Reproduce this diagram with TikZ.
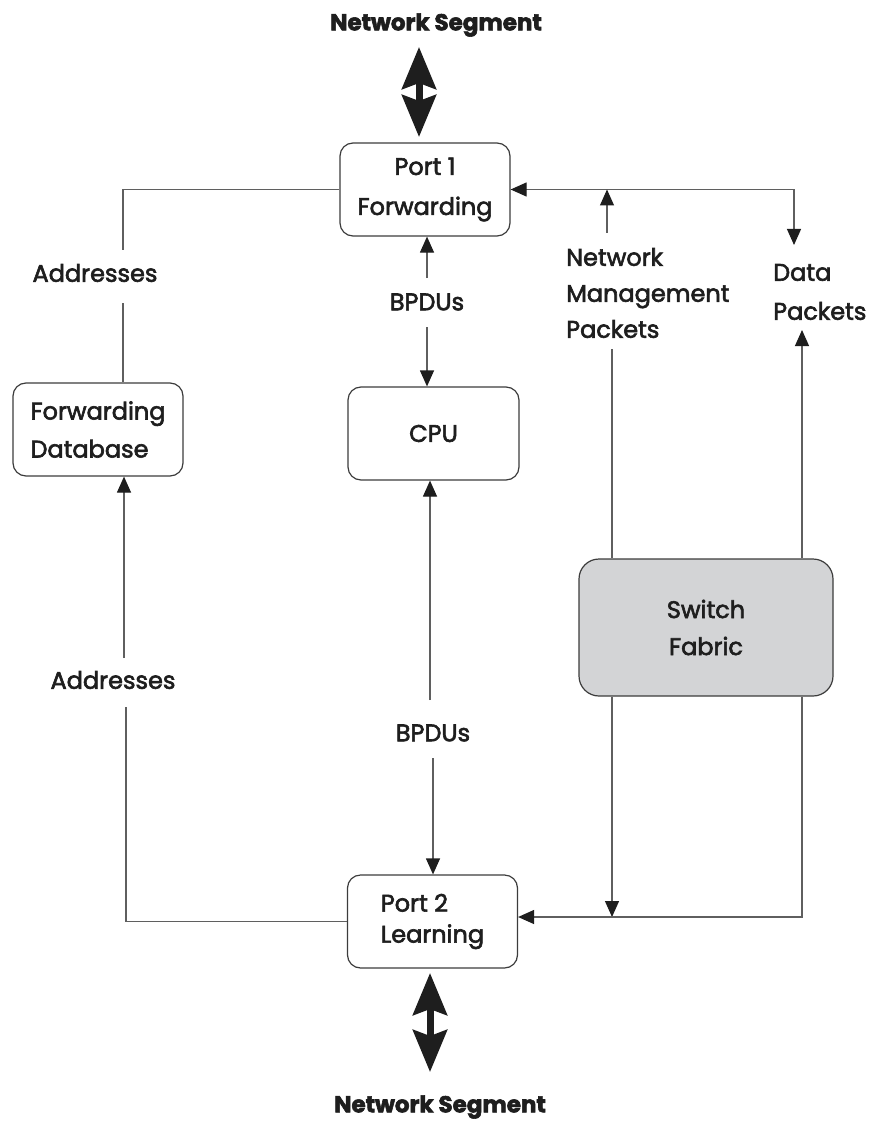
\documentclass[tikz,border=0pt]{standalone}
\usepackage{fontspec}
\setmainfont{Poppins}[FakeBold=2.5]
\usetikzlibrary{arrows.meta}
\definecolor{fabricgray}{RGB}{211,212,214}
\definecolor{linegray}{RGB}{95,95,95}
\definecolor{boxline}{RGB}{60,60,60}
\definecolor{inkblack}{RGB}{30,30,30}
\begin{document}
\begin{tikzpicture}[x=1pt,y=-1pt,
  box/.style={draw=boxline, line width=1.2pt, rounded corners=13pt, minimum width=170pt, minimum height=93pt, inner sep=0pt, text=inkblack, font=\fontsize{24}{38}\selectfont, align=center, fill=white},
  lbl/.style={font=\fontsize{24}{36}\selectfont, text=inkblack, inner sep=0pt, align=left},
  conn/.style={draw=linegray, line width=1.2pt},
  arr/.style={conn, -{Triangle[length=16pt,width=14pt,color=inkblack]}},
  big/.style={draw=inkblack, line width=7pt, {Stealth[length=42pt,width=34pt,inset=6pt]}-{Stealth[length=42pt,width=34pt,inset=6pt]}},
]
\useasboundingbox (0,0) rectangle (873,1123);

% boxes
\node[box, font=\fontsize{24}{40}\selectfont] (port1) at (425,189.5) {Port 1\\Forwarding};
\node[box, align=left] (fdb) at (98,429.5) {Forwarding\\Database};
\node[box, minimum width=171pt] (cpu) at (433.5,433.5) {CPU};
\node[box, align=left, font=\fontsize{24}{31}\selectfont] (port2) at (432.5,921.5) {Port 2\\Learning};
\node[box, fill=fabricgray, minimum width=254pt, minimum height=137pt, rounded corners=20pt, font=\fontsize{24}{37}\selectfont] (fabric) at (706,627.5) {Switch\\Fabric};

% labels
\node[lbl, font=\fontsize{23}{36}\bfseries\selectfont] (segtop) at (436,25) {Network Segment};
\node[lbl, font=\fontsize{23}{36}\bfseries\selectfont] (segbot) at (440,1107) {Network Segment};
\node[lbl] (addr1) at (95,273) {Addresses};
\node[lbl] (addr2) at (113,680) {Addresses};
\node[lbl] (bpdu1) at (427,302) {BPDUs};
\node[lbl] (bpdu2) at (433,733) {BPDUs};
\node[lbl, anchor=west] (nmp) at (566,293) {Network\\Management\\Packets};
\node[lbl, anchor=west, font=\fontsize{24}{39}\selectfont] (dp) at (773,292) {Data\\Packets};

% coordinates
\coordinate (segtopA) at (419,47);
\coordinate (segtopB) at (419,137);
\coordinate (segbotA) at (430,973);
\coordinate (segbotB) at (430,1072);
\coordinate (a1t) at (123,250);
\coordinate (a1b) at (123,303);
\coordinate (a2t) at (124,658);
\coordinate (a2b) at (126,707);
\coordinate (b1t) at (427,278);
\coordinate (b1b) at (427,327);
\coordinate (b2t) at (430,700);
\coordinate (b2b) at (433,758);
\coordinate (dpj) at (794,189.5);
\coordinate (dpend) at (794,245);
\coordinate (nmpa) at (607,233);
\coordinate (nmpj) at (607,189.5);
\coordinate (nmpline) at (612,349);
\coordinate (dparr) at (802,330);
\coordinate (nmpdown) at (612,917);

% big double arrows
\draw[big] (segtopA) -- (segtopB);
\draw[big] (segbotA) -- (segbotB);

% addresses
\draw[conn] (port1.west) -| (a1t);
\draw[conn] (a1b) -- (a1b |- fdb.north);
\draw[arr] (a2t) -- (a2t |- fdb.south);
\draw[conn] (a2b) |- (port2.west);

% BPDUs
\draw[arr] (b1t) -- (b1t |- port1.south);
\draw[arr] (b1b) -- (b1b |- cpu.north);
\draw[arr] (b2t) -- (b2t |- cpu.south);
\draw[arr] (b2b) -- (b2b |- port2.north);

% top right
\draw[arr] (dpj) -- (port1.east);
\draw[arr] (dpj) -- (dpend);
\draw[arr] (nmpa) -- (nmpj);
\draw[conn] (nmpline) -- (nmpline |- fabric.north);
\draw[arr] (dparr |- fabric.north) -- (dparr);

% bottom right
\draw[arr] (nmpline |- fabric.south) -- (nmpdown);
\draw[arr] (fabric.south -| dparr) |- ([yshift=4.5pt]port2.east);
\end{tikzpicture}
\end{document}
